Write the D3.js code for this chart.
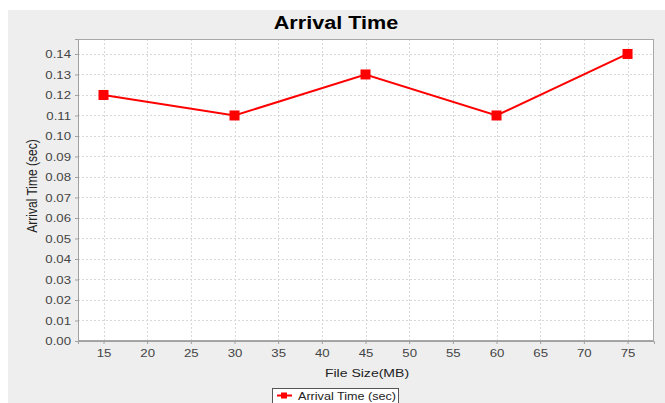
<!DOCTYPE html>
<html><head><meta charset="utf-8">
<script src="https://cdn.jsdelivr.net/npm/d3@7"></script>
<style>body{margin:0;background:#fff;}svg{display:block;font-family:"Liberation Sans",Arial,sans-serif;}</style>
</head><body>
<svg id="c" width="665" height="403"></svg>
<script>
const fileSizes = [15, 30, 45, 60, 75];
const arrivalTimes = [0.12, 0.11, 0.13, 0.11, 0.14];
const xTicks = [15,20,25,30,35,40,45,50,55,60,65,70,75];
const yTicks = [0,0.01,0.02,0.03,0.04,0.05,0.06,0.07,0.08,0.09,0.10,0.11,0.12,0.13,0.14];
const seriesName = "Arrival Time (sec)";
const title = "Arrival Time";
const xTitle = "File Size(MB)";
const yTitle = "Arrival Time (sec)";

const STRETCH = 1.2;
function stretch(sel){
  sel.each(function(){
    const w = this.getComputedTextLength();
    d3.select(this).attr("textLength", w*STRETCH).attr("lengthAdjust","spacingAndGlyphs");
  });
}

const svg = d3.select("#c");
svg.append("rect").attr("x",8).attr("y",10).attr("width",657).attr("height",393).attr("fill","#eeeeee");

const L=78,R=654,T=39,B=341;
const x = d3.scaleLinear().domain([12.08,78.03]).range([L,R]);
const y = d3.scaleLinear().domain([0,0.1473]).range([B,T]);

svg.append("rect").attr("x",L).attr("y",T).attr("width",R-L).attr("height",B-T).attr("fill","#fff");

const g = svg.append("g");
g.selectAll(".vg").data(xTicks).join("line")
 .attr("x1",d=>Math.round(x(d))+0.5).attr("x2",d=>Math.round(x(d))+0.5).attr("y1",T).attr("y2",B)
 .attr("stroke","#d8d8d8").attr("stroke-dasharray","2,2").attr("stroke-width",1);
g.selectAll(".hg").data(yTicks.slice(1)).join("line")
 .attr("y1",d=>Math.round(y(d))+0.5).attr("y2",d=>Math.round(y(d))+0.5).attr("x1",L).attr("x2",R)
 .attr("stroke","#d8d8d8").attr("stroke-dasharray","2,2").attr("stroke-width",1);

svg.append("rect").attr("x",L+0.5).attr("y",T+0.5).attr("width",R-L-1).attr("height",B-T-1)
 .attr("fill","none").attr("stroke","#a8a8a8");

const xa = svg.append("g").attr("transform",`translate(0,${B})`)
 .call(d3.axisBottom(x).tickValues(xTicks).tickSize(3).tickPadding(5).tickFormat(d3.format("d")));
const ya = svg.append("g").attr("transform",`translate(${L},0)`)
 .call(d3.axisLeft(y).tickValues(yTicks).tickSize(3).tickPadding(4).tickFormat(d3.format(".2f")));
[xa,ya].forEach(a=>{
  a.select(".domain").attr("stroke","#a0a0a0");
  a.selectAll(".tick line").attr("stroke","#a0a0a0");
  a.selectAll("text").attr("font-size",11).attr("fill","#444").attr("font-family","Liberation Sans, Arial, sans-serif");
  stretch(a.selectAll("text"));
});

const data = fileSizes.map((d,i)=>({x:d,y:arrivalTimes[i]}));
svg.append("path").datum(data)
 .attr("d",d3.line().x(d=>x(d.x)).y(d=>y(d.y)))
 .attr("fill","none").attr("stroke","#ff0000").attr("stroke-width",2);
svg.selectAll(".pt").data(data).join("rect")
 .attr("x",d=>x(d.x)-5).attr("y",d=>y(d.y)-5).attr("width",10).attr("height",10).attr("fill","#ff0000");

stretch(svg.append("text").attr("x",336).attr("y",29).attr("text-anchor","middle")
 .attr("font-size",18).attr("font-weight","bold").attr("fill","#000").text(title));
stretch(svg.append("text").attr("x",367).attr("y",377).attr("text-anchor","middle")
 .attr("font-size",11.7).attr("fill","#222").text(xTitle));
svg.append("text").attr("transform","translate(37,186) scale(1.2,1) rotate(-90)").attr("text-anchor","middle")
 .attr("font-size",12).attr("fill","#222").text(yTitle);

const lg = svg.append("g");
lg.append("rect").attr("x",272.5).attr("y",388.5).attr("width",126).attr("height",20).attr("fill","#fff").attr("stroke","#555");
lg.append("line").attr("x1",277).attr("x2",292).attr("y1",395.5).attr("y2",395.5).attr("stroke","#ff0000").attr("stroke-width",2);
lg.append("rect").attr("x",281).attr("y",392.5).attr("width",6).attr("height",6).attr("fill","#ff0000");
stretch(lg.append("text").attr("x",298).attr("y",400).attr("font-size",10.5).attr("fill","#222").text(seriesName));
</script>
</body></html>
